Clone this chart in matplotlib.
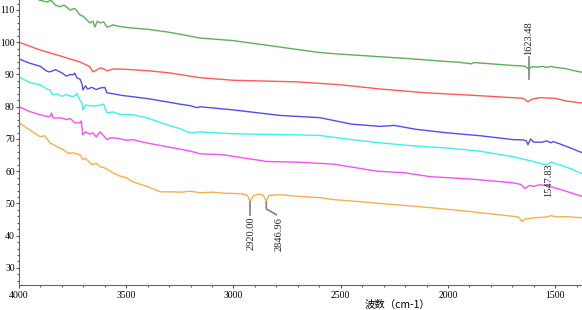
import matplotlib
matplotlib.use("Agg")
import matplotlib.pyplot as plt
from matplotlib.ticker import MultipleLocator

# ---- data (wavenumber, transmittance) ----
green_w = [4000, 3950, 3902, 3870, 3850, 3830, 3809, 3790, 3762, 3740, 3716, 3700, 3685, 3669, 3655,
           3646, 3635, 3622, 3605, 3590, 3575, 3562, 3540, 3500, 3469, 3400, 3310, 3250, 3156, 3000,
           2783, 2597, 2500, 2317, 2200, 2100, 2000, 1950, 1890, 1880, 1800, 1700, 1664, 1640, 1623,
           1610, 1585, 1560, 1540, 1520, 1500, 1450, 1420, 1385, 1375]
green_v = [115.5, 114.5, 113, 112.5, 113, 111.5, 111, 111.5, 110, 110.5, 108.5, 108, 107, 106, 106.5,
           104.7, 106.5, 106, 106.3, 104.7, 105, 105.4, 105, 104.6, 104.4, 104, 103.2, 102.5, 101.3, 100.5,
           98.5, 96.8, 96.3, 95.5, 95, 94.5, 94, 93.8, 93.3, 93.7, 93.3, 92.8, 92.7, 92.5, 91.7,
           92.4, 92.3, 92.5, 92.2, 92.5, 92.2, 91.8, 91.3, 90.8, 90.7]

red_w = [4000, 3902, 3800, 3716, 3669, 3655, 3640, 3622, 3605, 3590, 3575, 3562, 3500, 3389, 3300,
         3156, 3000, 2700, 2500, 2317, 2100, 1900, 1697, 1650, 1627, 1610, 1571, 1500, 1450, 1385, 1375]
red_v = [100, 97.6, 95.6, 93.9, 92.4, 90.8, 91.3, 92, 91.8, 91.1, 91.4, 91.7, 91.6, 91.1, 90.5,
         89, 88.2, 87.7, 86.8, 85.5, 84.3, 83.6, 82.8, 82.6, 81.5, 82.3, 82.8, 82.6, 81.8, 81.2, 81.2]

blue_w = [4000, 3950, 3900, 3870, 3856, 3830, 3800, 3780, 3760, 3748, 3740, 3730, 3715, 3706, 3702,
          3690, 3680, 3660, 3640, 3622, 3600, 3590, 3560, 3520, 3469, 3400, 3310, 3250, 3200, 3170,
          3156, 3000, 2783, 2597, 2450, 2317, 2250, 2150, 2005, 1850, 1697, 1650, 1635, 1627, 1615,
          1600, 1560, 1540, 1520, 1510, 1480, 1420, 1385, 1375]
blue_v = [94.8, 93.5, 92.5, 91, 90.8, 91.5, 90.5, 89.5, 90, 89.9, 90.4, 89, 88.5, 87, 85.2,
          86.5, 85.5, 86, 85.3, 85.8, 86, 84.3, 84, 83.5, 83.1, 82.5, 81.5, 80.8, 80.3, 79.7,
          80, 79, 77.3, 76.6, 74.6, 73.9, 74.2, 73, 71.9, 71, 69.8, 69.7, 69.5, 68.2, 70,
          69, 69, 69.4, 68.8, 69.2, 68.5, 67, 66, 65.8]

cyan_w = [4000, 3950, 3902, 3870, 3856, 3842, 3820, 3800, 3780, 3760, 3748, 3730, 3716, 3705, 3702,
          3690, 3650, 3622, 3605, 3590, 3560, 3530, 3469, 3400, 3310, 3250, 3203, 3156, 3000, 2800,
          2600, 2450, 2317, 2150, 2005, 1850, 1697, 1600, 1560, 1540, 1520, 1500, 1450, 1420, 1385, 1375]
cyan_v = [89.2, 87.5, 86.8, 85.5, 85.2, 83.7, 84, 83.2, 83.8, 83.3, 83.1, 84, 82.1, 81, 79,
          80.5, 80.2, 80.5, 80.8, 78.1, 78.4, 77.6, 77.5, 76.5, 74.4, 73.2, 71.9, 72.2, 71.6, 71.4,
          71.1, 69.8, 68.8, 67.8, 67.2, 66.2, 64.5, 63, 62.2, 62, 62.8, 62.4, 61.3, 60.6, 59.5, 59.2]

magenta_w = [4000, 3950, 3902, 3870, 3856, 3848, 3840, 3800, 3780, 3760, 3740, 3716, 3710, 3702, 3690,
             3670, 3655, 3640, 3622, 3605, 3590, 3570, 3540, 3500, 3469, 3400, 3310, 3200, 3156, 3050,
             2843, 2700, 2535, 2330, 2200, 2083, 1900, 1697, 1660, 1640, 1620, 1600, 1571, 1540, 1500,
             1450, 1385, 1375]
magenta_v = [80, 78.5, 77.5, 77, 76.9, 78, 76.5, 76.5, 76, 76.3, 75, 75, 75.6, 71.3, 72.2,
             71.5, 71.9, 70.6, 72.2, 71, 69.8, 70.4, 70.2, 69.6, 69.8, 68.7, 67.6, 66.2, 65.4, 65.1,
             63, 62.8, 62.2, 60, 59.5, 58.3, 57.6, 56.4, 55.9, 54.6, 55.6, 55.3, 55.8, 55.5, 54.8,
             53.8, 52.4, 52.2]

orange_w = [4000, 3950, 3902, 3880, 3856, 3820, 3790, 3770, 3748, 3716, 3702, 3690, 3660, 3640, 3622,
            3600, 3562, 3530, 3500, 3469, 3400, 3340, 3280, 3240, 3200, 3156, 3100, 3050, 2960, 2935,
            2922, 2905, 2880, 2860, 2847, 2835, 2783, 2700, 2597, 2535, 2400, 2317, 2083, 1900, 1697,
            1670, 1655, 1640, 1585, 1540, 1520, 1490, 1450, 1385, 1375]
orange_v = [75, 72.8, 70.7, 71, 68.8, 67.5, 66.5, 65.5, 65.7, 65.1, 63.6, 64, 62, 62.5, 61.4,
            61, 59.5, 58.5, 58, 56.7, 55.2, 53.6, 53.6, 53.5, 53.8, 53.3, 53.5, 53.2, 53, 52.5,
            50.6, 52.5, 52.9, 52.5, 50.6, 52.5, 52.7, 52.2, 51.8, 51.2, 50.5, 50, 48.7, 47.5, 46,
            45.8, 44.4, 45.2, 45.6, 45.8, 46.2, 45.8, 45.9, 45.6, 45.6]

series = [
    (green_w, green_v, "#5cb05c"),
    (red_w, red_v, "#ff5a5a"),
    (blue_w, blue_v, "#4f4ff0"),
    (cyan_w, cyan_v, "#3ff0f0"),
    (magenta_w, magenta_v, "#f054f0"),
    (orange_w, orange_v, "#f5b04e"),
]

peak_labels = ["1623.48", "1547.83", "2920.00", "2846.96"]
peak_pos = [1623.48, 1547.83, 2920.00, 2846.96]

fig = plt.figure(figsize=(5.82, 3.10), dpi=100)
ax = fig.add_axes([19 / 582, 25 / 310, 563 / 582, 285 / 310])

for w, v, c in series:
    ax.plot(w, v, color=c, lw=1.0)

ax.set_xlim(4000, 1375)
ax.set_ylim(24.7, 113.1)

ax.xaxis.set_major_locator(MultipleLocator(500))
ax.xaxis.set_minor_locator(MultipleLocator(100))
ax.yaxis.set_major_locator(MultipleLocator(10))
ax.yaxis.set_minor_locator(MultipleLocator(2))
ax.set_yticks(range(30, 111, 10))

for s in ["top", "right"]:
    ax.spines[s].set_visible(False)
for s in ["left", "bottom"]:
    ax.spines[s].set_color("#666666")
    ax.spines[s].set_linewidth(0.8)

ax.tick_params(axis="x", which="major", length=2.5, width=0.8, color="#555555",
               labelsize=7, pad=2)
ax.tick_params(axis="y", which="major", length=2, width=0.8, color="#555555",
               labelsize=7, pad=1)
ax.tick_params(axis="both", which="minor", length=1.5, width=0.8, color="#555555")
for lab in ax.get_xticklabels() + ax.get_yticklabels():
    lab.set_family("Liberation Serif")

annot_kw = dict(rotation=90, fontsize=7.5, family="Liberation Serif", color="#222222")
lc = "#808080"
# 1623.48 (green)
ax.plot([peak_pos[0], peak_pos[0]], [88.6, 95.5], color=lc, lw=1.2)
ax.text(peak_pos[0], 96.1, peak_labels[0], ha="center", va="bottom", **annot_kw)
# 1547.83 (cyan/magenta)
ax.text(1530, 52.0, peak_labels[1], ha="center", va="bottom", **annot_kw)
# 2920.00 (orange)
ax.plot([2922, 2922], [50.3, 46.5], color=lc, lw=1.2)
ax.text(2919, 45.9, peak_labels[2], ha="center", va="top", **annot_kw)
# 2846.96 (orange), bent leader
ax.plot([2847, 2847, 2800], [50.3, 48.3, 46.5], color=lc, lw=1.2)
ax.text(2786, 45.9, peak_labels[3], ha="center", va="top", **annot_kw)

fig.text(397 / 582, 5 / 310, "波数（cm-1）", ha="center", va="center", fontsize=7.5,
         family=["Noto Sans CJK SC", "DejaVu Sans"])

fig.savefig("out.png", dpi=100)
